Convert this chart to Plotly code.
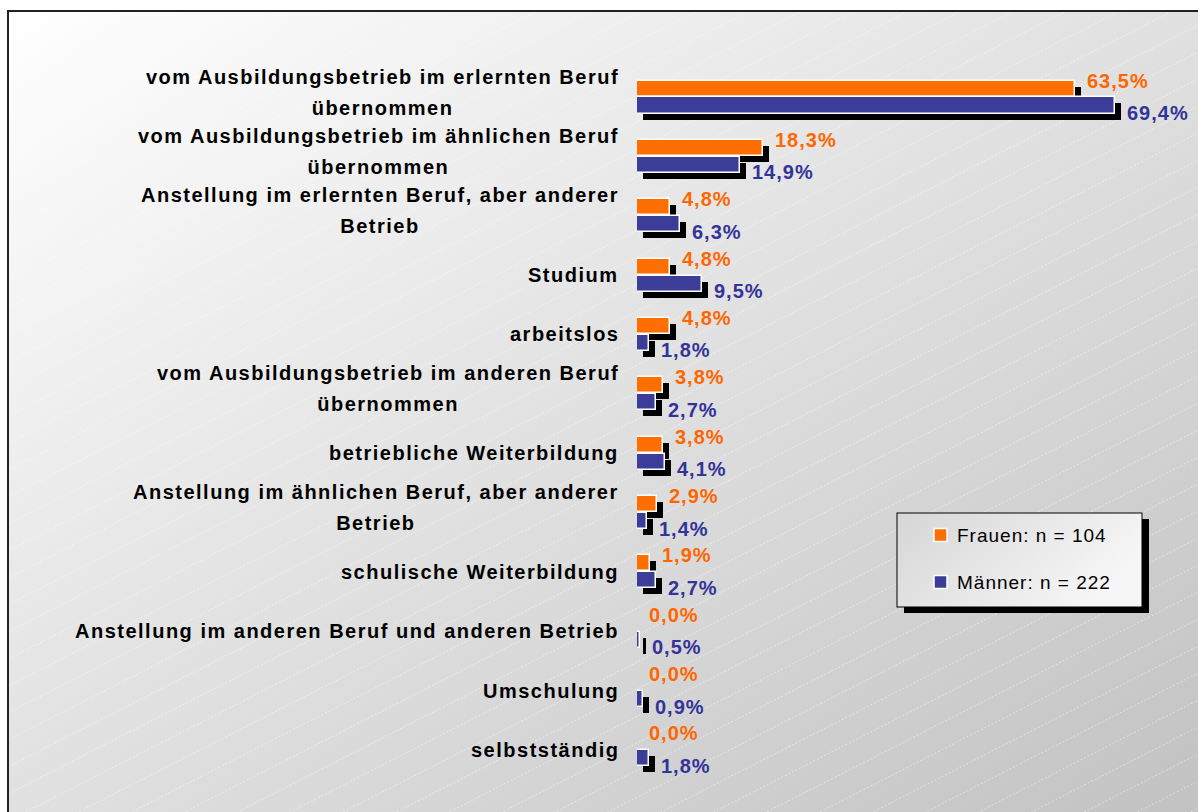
import base64
import plotly.graph_objects as go

# --- data -------------------------------------------------------------------
categories = [
    ["vom Ausbildungsbetrieb im erlernten Beruf", "übernommen"],
    ["vom Ausbildungsbetrieb im ähnlichen Beruf", "übernommen"],
    ["Anstellung im erlernten Beruf, aber anderer", "Betrieb"],
    ["Studium"],
    ["arbeitslos"],
    ["vom Ausbildungsbetrieb im anderen Beruf", "übernommen"],
    ["betriebliche Weiterbildung"],
    ["Anstellung im ähnlichen Beruf, aber anderer", "Betrieb"],
    ["schulische Weiterbildung"],
    ["Anstellung im anderen Beruf und anderen Betrieb"],
    ["Umschulung"],
    ["selbstständig"],
]
frauen = [63.5, 18.3, 4.8, 4.8, 4.8, 3.8, 3.8, 2.9, 1.9, 0.0, 0.0, 0.0]
maenner = [69.4, 14.9, 6.3, 9.5, 1.8, 2.7, 4.1, 1.4, 2.7, 0.5, 0.9, 1.8]
series_names = ["Frauen: n = 104", "Männer: n = 222"]

# --- styling ----------------------------------------------------------------
W, H = 1198, 812
ML, MR, MT, MB = 637, 0, 40, 32
PW, PH = W - ML - MR, H - MT - MB
ORANGE = "#FF6E00"
BLUE = "#3C3C99"
ORANGE_TXT = "#FF6600"
BLUE_TXT = "#333399"
FONT = "Liberation Sans, Arial, sans-serif"
XMAX = PW / 6.89          # about 6.89 px per percent
ROW_PX = 59.36            # pixel distance between categories
FIRST_ROW_PX = 97
BAR_OFF = 0.143           # half distance between the two bars of a group
BAR_W = 0.27
SH_X = 6 / 6.89           # shadow offset (data units)
SH_Y = 6 / ROW_PX


def px_x(px):
    return (px - ML) / PW


def px_y(py):
    return (H - MB - py) / PH


def spaced(text, ls, extra=""):
    return f'<span style="letter-spacing:{ls}px{extra}">{text}</span>'


n = len(categories)
idx = list(range(n))
y_top = (MT - FIRST_ROW_PX) / ROW_PX
y_bot = (H - MB - FIRST_ROW_PX) / ROW_PX

fig = go.Figure()

# drop shadows first, then the bars themselves
for vals, off in ((frauen, -BAR_OFF), (maenner, BAR_OFF)):
    fig.add_trace(go.Bar(
        orientation="h", x=vals, base=SH_X,
        y=[i + off + SH_Y for i in idx], width=BAR_W,
        marker=dict(color="black", line=dict(width=0)),
        showlegend=False, hoverinfo="skip",
    ))
for vals, off, col, name in ((frauen, -BAR_OFF, ORANGE, series_names[0]),
                             (maenner, BAR_OFF, BLUE, series_names[1])):
    fig.add_trace(go.Bar(
        orientation="h", x=vals, y=[i + off for i in idx], width=BAR_W,
        name=name,
        marker=dict(color=col, line=dict(color="white", width=1.5)),
        showlegend=False,
    ))

annotations = []

# value labels
for vals, off, col, ys in ((frauen, -BAR_OFF, ORANGE_TXT, 8),
                           (maenner, BAR_OFF, BLUE_TXT, -7.5)):
    for i, v in enumerate(vals):
        annotations.append(dict(
            x=v, y=i + off, xref="x", yref="y",
            text=spaced(f"{v:.1f}".replace(".", ",") + "%", 1),
            showarrow=False, xanchor="left", yanchor="middle",
            xshift=10, yshift=ys,
            font=dict(family=FONT, size=20, color=col, weight="bold"),
        ))

# category labels; the second line of a wrapped label sits a little lower
lab_font = dict(family=FONT, size=20, color="black", weight="bold")
for i, lines in enumerate(categories):
    parts = [spaced(lines[0], 1.5)]
    parts += [spaced(t, 1.5, ";baseline-shift:-5px") for t in lines[1:]]
    annotations.append(dict(
        x=px_x(621), y=i, xref="paper", yref="y", showarrow=False,
        xanchor="right", yanchor="middle", align="center",
        yshift=5 if len(lines) > 1 else 0,
        text="<br>".join(parts), font=lab_font,
    ))

# legend entries
shapes = []
for name, col, cy in ((series_names[0], ORANGE, 535),
                      (series_names[1], BLUE, 582)):
    shapes.append(dict(type="rect", xref="paper", yref="paper", layer="above",
                       x0=px_x(934), x1=px_x(947), y0=px_y(cy + 6.5),
                       y1=px_y(cy - 6.5), fillcolor=col,
                       line=dict(color="white", width=1.5)))
    annotations.append(dict(
        x=px_x(955), y=px_y(cy), xref="paper", yref="paper",
        text=spaced(name, 1), showarrow=False, xanchor="left",
        yanchor="middle", font=dict(family=FONT, size=19, color="black"),
    ))

# frame around the chart area
shapes.append(dict(type="rect", xref="paper", yref="paper", layer="above",
                   x0=px_x(8), x1=px_x(W + 10), y0=px_y(H + 10), y1=px_y(11),
                   line=dict(color="#222222", width=2), fillcolor="rgba(0,0,0,0)"))

# background: diagonal grey gradient with faint dashed hatch, legend box
BW, BH = W - 8, H - 11
lines_svg = []
c = 0
while c < BH + BW * 0.5 + 30:
    lines_svg.append(f'<line x1="0" y1="{c}" x2="{BW}" y2="{c - BW * 0.51:.1f}"/>')
    c += 27
lx, ly, lw, lh = 897 - 8, 513 - 11, 245, 94
svg = f'''<svg xmlns="http://www.w3.org/2000/svg" width="{BW}" height="{BH}" viewBox="0 0 {BW} {BH}" preserveAspectRatio="none">
<defs>
<linearGradient id="bg" x1="0" y1="0" x2="1" y2="1">
<stop offset="0" stop-color="#ffffff"/><stop offset="1" stop-color="#c2c2c2"/></linearGradient>
<linearGradient id="lg" x1="0" y1="0" x2="1" y2="0.4">
<stop offset="0" stop-color="#d6d6d6"/><stop offset="1" stop-color="#f6f6f6"/></linearGradient>
</defs>
<rect x="0" y="0" width="{BW}" height="{BH}" fill="url(#bg)"/>
<g stroke="#ffffff" stroke-opacity="0.45" stroke-width="1" stroke-dasharray="2 2">{''.join(lines_svg)}</g>
<rect x="{lx + 7}" y="{ly + 6}" width="{lw}" height="{lh}" fill="#000000"/>
<rect x="{lx}" y="{ly}" width="{lw}" height="{lh}" fill="url(#lg)" stroke="#000000" stroke-width="1"/>
</svg>'''
src = "data:image/svg+xml;base64," + base64.b64encode(svg.encode("utf-8")).decode()

fig.update_layout(
    width=W, height=H,
    margin=dict(l=ML, r=MR, t=MT, b=MB, pad=0),
    paper_bgcolor="white", plot_bgcolor="rgba(0,0,0,0)",
    barmode="overlay", bargap=0,
    showlegend=False,
    xaxis=dict(range=[0, XMAX], visible=False, fixedrange=True),
    yaxis=dict(range=[y_bot, y_top], visible=False, fixedrange=True),
    images=[dict(source=src, xref="paper", yref="paper",
                 x=px_x(8), y=px_y(11), sizex=BW / PW, sizey=BH / PH,
                 xanchor="left", yanchor="top", sizing="stretch",
                 layer="below")],
    annotations=annotations,
    shapes=shapes,
)

fig.write_html("out.html")
